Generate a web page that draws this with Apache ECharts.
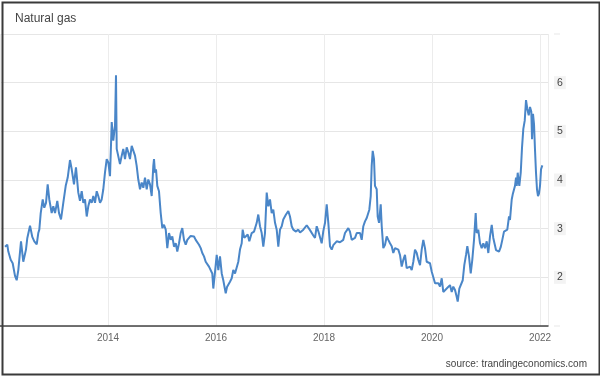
<!DOCTYPE html>
<html>
<head>
    <meta charset="UTF-8">
    <style type="text/css">
        body {
            margin: 0;
            background: #fff;
        }

        #chart {
            width: 600px;
            height: 377px;
        }
    </style>
</head>
<body>
    <div id="chart"></div>
    <script src="https://cdn.jsdelivr.net/npm/echarts@6/dist/echarts.min.js"></script>
    <script type="text/javascript">
        'use strict';
        // dates as decimal years
        var years = [
            2012.093, 2012.135, 2012.154, 2012.198, 2012.235, 2012.278, 2012.309, 2012.339, 2012.389, 2012.431,
            2012.481, 2012.506, 2012.556, 2012.598, 2012.635, 2012.680, 2012.709, 2012.728, 2012.754, 2012.791,
            2012.820, 2012.852, 2012.883, 2012.913, 2012.957, 2012.987, 2013.019, 2013.061, 2013.093, 2013.130,
            2013.172, 2013.217, 2013.254, 2013.296, 2013.328, 2013.370, 2013.407, 2013.450, 2013.481, 2013.513,
            2013.543, 2013.574, 2013.606, 2013.635, 2013.667, 2013.698, 2013.728, 2013.759, 2013.791, 2013.820,
            2013.852, 2013.883, 2013.913, 2013.944, 2013.976, 2014.006, 2014.037, 2014.069, 2014.098, 2014.130,
            2014.148, 2014.161, 2014.191, 2014.222, 2014.254, 2014.283, 2014.315, 2014.346, 2014.376, 2014.407,
            2014.439, 2014.457, 2014.500, 2014.531, 2014.561, 2014.593, 2014.624, 2014.654, 2014.685, 2014.717,
            2014.746, 2014.778, 2014.809, 2014.839, 2014.852, 2014.870, 2014.889, 2014.913, 2014.944, 2014.976,
            2015.006, 2015.037, 2015.069, 2015.098, 2015.130, 2015.161, 2015.191, 2015.222, 2015.254, 2015.283,
            2015.315, 2015.346, 2015.376, 2015.407, 2015.439, 2015.469, 2015.500, 2015.531, 2015.561, 2015.593,
            2015.624, 2015.654, 2015.685, 2015.717, 2015.746, 2015.778, 2015.809, 2015.839, 2015.870, 2015.902,
            2015.931, 2015.950, 2015.981, 2016.013, 2016.043, 2016.074, 2016.106, 2016.135, 2016.180, 2016.204,
            2016.228, 2016.259, 2016.291, 2016.320, 2016.352, 2016.383, 2016.413, 2016.444, 2016.476, 2016.494,
            2016.524, 2016.556, 2016.587, 2016.617, 2016.661, 2016.704, 2016.754, 2016.783, 2016.815, 2016.846,
            2016.876, 2016.907, 2016.939, 2016.969, 2017.000, 2017.031, 2017.061, 2017.093, 2017.124, 2017.154,
            2017.185, 2017.217, 2017.246, 2017.296, 2017.339, 2017.370, 2017.402, 2017.431, 2017.481, 2017.524,
            2017.556, 2017.617, 2017.680, 2017.741, 2017.802, 2017.833, 2017.865, 2017.894, 2017.926, 2017.957,
            2017.987, 2018.019, 2018.050, 2018.080, 2018.111, 2018.143, 2018.172, 2018.204, 2018.235, 2018.265,
            2018.296, 2018.328, 2018.357, 2018.389, 2018.420, 2018.450, 2018.481, 2018.513, 2018.543, 2018.574,
            2018.606, 2018.635, 2018.667, 2018.698, 2018.728, 2018.759, 2018.791, 2018.820, 2018.839, 2018.865,
            2018.883, 2018.902, 2018.926, 2018.944, 2018.976, 2018.994, 2019.019, 2019.050, 2019.069, 2019.098,
            2019.130, 2019.161, 2019.191, 2019.222, 2019.254, 2019.283, 2019.315, 2019.346, 2019.376, 2019.407,
            2019.439, 2019.469, 2019.500, 2019.531, 2019.561, 2019.593, 2019.624, 2019.654, 2019.685, 2019.717,
            2019.746, 2019.778, 2019.809, 2019.839, 2019.870, 2019.902, 2019.931, 2019.963, 2019.994, 2020.024,
            2020.056, 2020.087, 2020.117, 2020.148, 2020.180, 2020.209, 2020.241, 2020.272, 2020.302, 2020.333,
            2020.365, 2020.394, 2020.426, 2020.457, 2020.476, 2020.506, 2020.537, 2020.569, 2020.598, 2020.630,
            2020.654, 2020.685, 2020.717, 2020.746, 2020.778, 2020.809, 2020.828, 2020.857, 2020.889, 2020.920,
            2020.950, 2020.981, 2021.013, 2021.043, 2021.074, 2021.106, 2021.135, 2021.161, 2021.185, 2021.217,
            2021.241, 2021.272, 2021.302, 2021.333, 2021.365, 2021.394, 2021.426, 2021.444, 2021.476, 2021.494,
            2021.519, 2021.537, 2021.556, 2021.569, 2021.587, 2021.606, 2021.617, 2021.643, 2021.667, 2021.691,
            2021.717, 2021.741, 2021.765, 2021.791, 2021.815, 2021.839, 2021.852, 2021.870, 2021.889, 2021.907,
            2021.926, 2021.944, 2021.963, 2021.981, 2022.000, 2022.019, 2022.043
        ];
        var prices = [
            2.63, 2.67, 2.53, 2.36, 2.29, 2.03, 1.94, 2.15, 2.74, 2.32,
            2.57, 2.81, 3.06, 2.83, 2.74, 2.68, 2.91, 2.98, 3.32, 3.60,
            3.43, 3.53, 3.91, 3.60, 3.32, 3.46, 3.32, 3.57, 3.32, 3.19,
            3.53, 3.88, 4.05, 4.41, 4.22, 3.91, 4.26, 3.74, 3.57, 3.77,
            3.53, 3.60, 3.25, 3.46, 3.60, 3.53, 3.67, 3.53, 3.77, 3.67,
            3.53, 3.60, 3.81, 4.15, 4.43, 4.36, 4.08, 5.19, 4.81, 5.12,
            6.15, 4.64, 4.60, 4.33, 4.50, 4.64, 4.43, 4.67, 4.57, 4.43,
            4.70, 4.74, 4.50, 4.29, 4.01, 3.81, 3.95, 3.84, 4.05, 3.81,
            4.01, 3.91, 3.67, 4.29, 4.43, 4.15, 4.22, 3.88, 3.77, 3.32,
            3.01, 3.08, 2.98, 2.60, 2.91, 2.77, 2.84, 2.63, 2.70, 2.53,
            2.70, 2.91, 3.01, 2.77, 2.67, 2.77, 2.81, 2.85, 2.81, 2.84,
            2.77, 2.74, 2.67, 2.60, 2.50, 2.43, 2.32, 2.36, 2.22, 2.19,
            2.08, 1.77, 2.10, 2.46, 2.15, 2.43, 2.08, 1.94, 1.67, 1.80,
            1.78, 1.91, 1.98, 2.15, 2.08, 2.12, 2.32, 2.57, 2.70, 2.98,
            2.81, 2.77, 2.88, 2.74, 2.91, 2.94, 3.12, 3.29, 3.05, 2.91,
            2.63, 2.91, 3.74, 3.46, 3.60, 3.32, 3.39, 3.12, 2.98, 2.63,
            2.98, 3.05, 3.19, 3.29, 3.36, 3.25, 3.05, 2.98, 2.94, 2.98,
            2.92, 2.98, 3.07, 2.97, 2.86, 2.81, 3.05, 2.95, 2.98, 2.70,
            2.95, 3.12, 3.50, 3.12, 2.64, 2.57, 2.66, 2.62, 2.74, 2.70,
            2.72, 2.74, 2.77, 2.91, 2.94, 3.01, 2.94, 2.77, 2.80, 2.81,
            2.91, 2.94, 2.91, 2.77, 3.05, 3.15, 3.22, 3.24, 3.39, 3.67,
            4.29, 4.60, 4.43, 3.88, 3.81, 3.25, 3.12, 3.50, 3.05, 2.60,
            2.67, 2.84, 2.77, 2.70, 2.64, 2.50, 2.60, 2.63, 2.57, 2.46,
            2.22, 2.36, 2.46, 2.19, 2.15, 2.22, 2.15, 2.32, 2.57, 2.50,
            2.36, 2.25, 2.57, 2.77, 2.60, 2.32, 2.32, 2.29, 2.12, 2.12,
            1.88, 1.84, 1.88, 1.81, 1.98, 1.70, 1.67, 1.77, 1.81, 1.84,
            1.70, 1.81, 1.74, 1.60, 1.50, 1.77, 1.74, 1.94, 2.25, 2.46,
            2.64, 2.43, 2.08, 2.36, 2.77, 3.32, 2.91, 2.98, 2.70, 2.60,
            2.70, 2.60, 2.74, 2.50, 2.84, 3.08, 2.81, 2.68, 2.56, 2.60,
            2.53, 2.62, 2.77, 2.94, 2.92, 2.98, 3.25, 3.18, 3.60, 3.70,
            3.66, 3.88, 4.05, 3.88, 4.15, 3.95, 3.88, 4.15, 4.67, 5.05,
            5.22, 5.64, 5.46, 5.33, 5.50, 5.40, 4.84, 5.36, 5.15, 4.63,
            4.15, 3.81, 3.67, 3.72, 3.88, 4.22, 4.30
        ];
        var xTicks = [2014, 2016, 2018, 2020, 2022];
        var yTicks = [2, 3, 4, 5, 6];

        var points = years.map(function (y, i) {
            return [y, prices[i]];
        });

        var font = '"Liberation Sans", Arial, sans-serif';
        var chart = echarts.init(document.getElementById('chart'), null, { renderer: 'canvas' });
        chart.setOption({
            animation: false,
            backgroundColor: '#fff',
            title: {
                text: 'Natural gas',
                left: 15,
                top: 13,
                padding: 0,
                textStyle: { fontFamily: font, fontSize: 12, fontWeight: 'normal', color: '#444' }
            },
            grid: { left: 0, right: 52, top: 34, bottom: 51 },
            xAxis: {
                type: 'value',
                min: 2012,
                max: 2022.148,
                interval: 2,
                axisLine: { lineStyle: { color: '#444', width: 1.5 } },
                axisTick: { show: false },
                axisLabel: {
                    margin: 7,
                    fontFamily: font,
                    fontSize: 10,
                    color: '#666',
                    showMinLabel: false,
                    showMaxLabel: false,
                    formatter: function (v) {
                        return xTicks.indexOf(v) >= 0 ? String(v) : '';
                    }
                },
                splitLine: { show: true, lineStyle: { color: '#ececec', width: 1 } }
            },
            yAxis: {
                type: 'value',
                position: 'right',
                min: 1,
                max: 7,
                interval: 1,
                axisLine: { show: false },
                axisTick: { show: false },
                axisLabel: {
                    margin: 6,
                    fontFamily: font,
                    fontSize: 10.5,
                    color: '#444',
                    backgroundColor: '#f3f3f3',
                    padding: [1, 3],
                    formatter: function (v) {
                        return yTicks.indexOf(v) >= 0 ? String(v) : '';
                    }
                },
                splitLine: { lineStyle: { color: '#e6e6e6', width: 1 } }
            },
            series: [{
                type: 'line',
                data: points,
                showSymbol: false,
                lineStyle: { color: '#4a86c8', width: 2 },
                itemStyle: { color: '#4a86c8' }
            }],
            graphic: [
                {
                    type: 'text',
                    right: 13,
                    top: 359,
                    style: {
                        text: 'source: trandingeconomics.com',
                        font: '10px ' + font,
                        fill: '#444'
                    }
                },
                {
                    type: 'rect',
                    left: 0,
                    top: 0,
                    shape: { x: 0, y: 0, width: 597, height: 372 },
                    style: { fill: 'none', stroke: '#3a3a3a', lineWidth: 2 },
                    z: 100
                }
            ]
        });
    </script>
</body>
</html>
